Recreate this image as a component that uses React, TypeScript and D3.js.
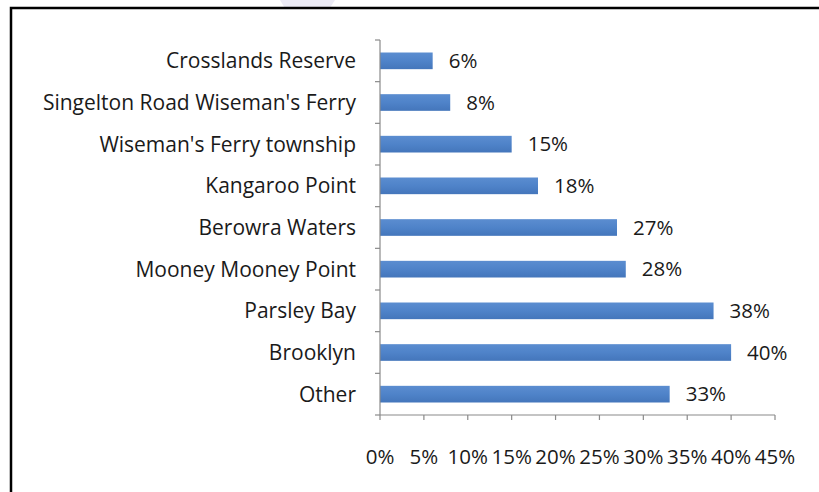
import React from "react";
import * as d3 from "d3";

const categories = [
  "Crosslands Reserve",
  "Singelton Road Wiseman's Ferry",
  "Wiseman's Ferry township",
  "Kangaroo Point",
  "Berowra Waters",
  "Mooney Mooney Point",
  "Parsley Bay",
  "Brooklyn",
  "Other",
];
const values = [6, 8, 15, 18, 27, 28, 38, 40, 33];
const xTicks = [0, 5, 10, 15, 20, 25, 30, 35, 40, 45];

const W = 819;
const H = 492;
const left = 380;
const right = 775;
const top = 40;
const bottom = 415;
const FONT = "'Open Sans', sans-serif";
const FS = 20.5;
const CAT_FS = 21;

export default function App() {
  const x = d3.scaleLinear().domain([0, 45]).range([left, right]);
  const y = d3.scaleBand<string>().domain(categories).range([top, bottom]).paddingInner(0.6).paddingOuter(0.3);
  const band = (bottom - top) / categories.length;
  const boundaries = d3.range(categories.length + 1).map((i) => top + i * band);

  return (
    <svg width={W} height={H} style={{ position: "absolute", left: 0, top: 0, background: "#fff" }}>
      <defs>
        <linearGradient id="barGrad" x1="0" y1="0" x2="0" y2="1">
          <stop offset="0" stopColor="#5b8dd0" />
          <stop offset="0.5" stopColor="#4f83c9" />
          <stop offset="1" stopColor="#4476bb" />
        </linearGradient>
      </defs>
      <rect x={0} y={0} width={W} height={H} fill="#fff" />
      <path d="M280,0 L335,0 L322,20 L292,20 Z" fill="#ecebf5" />
      <rect x={11} y={8} width={W + 20} height={H + 20} fill="#fff" stroke="#000" strokeWidth={2.5} />

      {categories.map((c, i) => (
        <g key={c}>
          <rect
            x={x(0)}
            y={y(c)!}
            width={x(values[i]) - x(0)}
            height={y.bandwidth()}
            fill="url(#barGrad)"
          />
          <text
            x={x(values[i]) + 16}
            y={y(c)! + y.bandwidth() / 2}
            dy="0.35em"
            fontFamily={FONT}
            fontSize={FS}
            fill="#1a1a1a"
          >
            {values[i]}%
          </text>
          <text
            x={356}
            y={y(c)! + y.bandwidth() / 2}
            dy="0.35em"
            textAnchor="end"
            fontFamily={FONT}
            fontSize={CAT_FS}
            fill="#1a1a1a"
          >
            {c}
          </text>
        </g>
      ))}

      <line x1={left} x2={left} y1={top} y2={bottom} stroke="#8a8a8a" strokeWidth={1.2} />
      {boundaries.map((b, i) => (
        <line key={i} x1={left - 5} x2={left} y1={b} y2={b} stroke="#8a8a8a" strokeWidth={1.2} />
      ))}
      <line x1={left} x2={right} y1={bottom} y2={bottom} stroke="#8a8a8a" strokeWidth={1.2} />
      {xTicks.map((t) => (
        <g key={t}>
          <line x1={x(t)} x2={x(t)} y1={bottom} y2={bottom + 5} stroke="#8a8a8a" strokeWidth={1.2} />
          <text
            x={x(t)}
            y={457}
            dy="0.35em"
            textAnchor="middle"
            fontFamily={FONT}
            fontSize={FS}
            fill="#1a1a1a"
          >
            {t}%
          </text>
        </g>
      ))}
    </svg>
  );
}
